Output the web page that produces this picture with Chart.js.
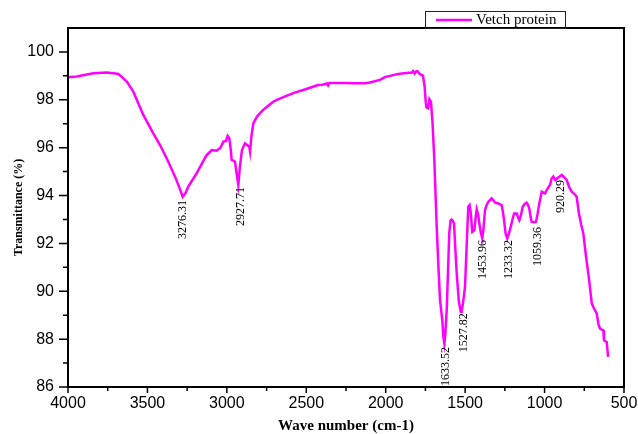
<!DOCTYPE html>
<html>
<head>
<meta charset="utf-8">
<script src="https://cdn.jsdelivr.net/npm/chart.js@4.4.1/dist/chart.umd.min.js"></script>
<style>
  html, body { margin: 0; padding: 0; background: #fff; }
</style>
</head>
<body>
<canvas id="myChart" width="638" height="434"></canvas>
<script>
// FTIR spectrum
const wavenumber = [
  4000, 3945, 3890, 3840, 3756, 3700, 3683, 3660, 3630, 3589, 3526, 3463, 3420, 3379, 3326, 3300,
  3278, 3260, 3243, 3190, 3160, 3127, 3095, 3064, 3040, 3022, 3005, 2995, 2985, 2975, 2970, 2955,
  2949, 2938, 2928, 2918, 2905, 2886, 2870, 2859, 2854, 2845, 2833, 2810, 2791, 2771, 2740, 2708,
  2686, 2640, 2582, 2500, 2426, 2400, 2370, 2363, 2355, 2300, 2250, 2204, 2132, 2100, 2036, 2006,
  1960, 1923, 1870, 1835, 1828, 1818, 1810, 1800, 1786, 1765, 1755, 1748, 1744, 1734, 1725, 1715,
  1705, 1694, 1679, 1668, 1658, 1644, 1637, 1631, 1625, 1616, 1608, 1600, 1592, 1585, 1578, 1570,
  1562, 1553, 1540, 1528, 1522, 1511, 1501, 1494, 1485, 1480, 1472, 1465, 1455, 1442, 1435, 1427,
  1418, 1411, 1400, 1392, 1385, 1375, 1365, 1354, 1333, 1320, 1312, 1291, 1270, 1262, 1255, 1245,
  1235, 1225, 1213, 1200, 1192, 1175, 1165, 1159, 1148, 1138, 1125, 1113, 1104, 1096, 1088, 1081,
  1065, 1054, 1045, 1033, 1018, 1008, 997, 985, 966, 955, 945, 932, 920, 905, 892, 875,
  861, 845, 829, 810, 798, 785, 770, 756, 740, 720, 703, 690, 672, 660, 651, 640,
  630, 626, 615, 609, 605, 600
];
const transmittance = [
  98.94, 98.97, 99.05, 99.11, 99.14, 99.10, 99.08, 98.95, 98.76, 98.34, 97.37, 96.60, 96.10, 95.56, 94.79, 94.35,
  93.95, 94.10, 94.37, 94.93, 95.30, 95.69, 95.90, 95.87, 96.00, 96.25, 96.28, 96.49, 96.40, 95.90, 95.49, 95.45,
  95.41, 94.90, 94.44, 95.20, 95.90, 96.18, 96.10, 96.04, 95.83, 96.50, 97.02, 97.30, 97.44, 97.58, 97.75, 97.92,
  98.00, 98.12, 98.28, 98.45, 98.62, 98.63, 98.68, 98.60, 98.70, 98.70, 98.70, 98.69, 98.69, 98.72, 98.83, 98.95,
  99.02, 99.08, 99.12, 99.14, 99.20, 99.10, 99.18, 99.20, 99.08, 99.00, 98.55, 97.90, 97.69, 97.65, 98.02, 97.90,
  97.00, 95.49, 92.69, 91.00, 89.63, 88.79, 88.10, 87.82, 88.20, 89.21, 90.80, 92.42, 92.95, 93.00, 92.95, 92.84,
  91.80, 90.74, 89.60, 89.15, 89.14, 89.63, 90.18, 91.30, 92.80, 93.53, 93.60, 93.30, 92.49, 92.56, 93.00, 93.42,
  93.20, 92.84, 92.40, 92.21, 92.60, 93.39, 93.60, 93.74, 93.88, 93.78, 93.70, 93.67, 93.60, 93.30, 92.97, 92.40,
  92.21, 92.40, 92.69, 93.05, 93.25, 93.25, 93.05, 92.97, 93.20, 93.53, 93.65, 93.70, 93.60, 93.46, 93.10, 92.90,
  92.88, 92.90, 93.20, 93.67, 94.16, 94.12, 94.09, 94.25, 94.44, 94.72, 94.79, 94.65, 94.72, 94.80, 94.86, 94.75,
  94.65, 94.35, 94.16, 94.05, 93.95, 93.30, 92.80, 92.42, 91.50, 90.50, 89.49, 89.30, 89.07, 88.60, 88.44, 88.40,
  88.37, 87.95, 87.90, 87.88, 87.60, 87.26
];

// peak annotations (text, and where the text starts in data units)
const peakLabels = ['3276.31', '2927.71', '1633.52', '1527.82', '1453.96', '1233.32', '1059.36', '920.29'];
const peakLabelX = [3276, 2911, 1619, 1507, 1388, 1226, 1041, 898];
const peakLabelY = [93.81, 94.36, 87.67, 89.08, 92.14, 92.14, 92.69, 94.65];

const xTicks = [500, 750, 1000, 1250, 1500, 1750, 2000, 2250, 2500, 2750, 3000, 3250, 3500, 3750, 4000];
const yTicks = [86, 87, 88, 89, 90, 91, 92, 93, 94, 95, 96, 97, 98, 99, 100];

const seriesName = 'Vetch protein';

// frame, tick marks, peak labels and boxed legend
const extrasPlugin = {
  id: 'extras',
  afterDraw(chart) {
    const { ctx, chartArea: a, scales: { x, y } } = chart;
    ctx.save();
    ctx.strokeStyle = '#000';
    ctx.lineWidth = 2;
    ctx.strokeRect(a.left, a.top, a.right - a.left, a.bottom - a.top);

    ctx.lineWidth = 1.5;
    ctx.beginPath();
    x.ticks.forEach(t => {
      const px = x.getPixelForValue(t.value);
      const len = t.value % 500 === 0 ? 6 : 4;
      ctx.moveTo(px, a.bottom);
      ctx.lineTo(px, a.bottom + len);
    });
    y.ticks.forEach(t => {
      const py = y.getPixelForValue(t.value);
      const len = t.value % 2 === 0 ? 9 : 5;
      ctx.moveTo(a.left, py);
      ctx.lineTo(a.left - len, py);
    });
    ctx.stroke();

    ctx.fillStyle = '#000';
    ctx.font = '12px "Liberation Serif", "Times New Roman", serif';
    ctx.textAlign = 'right';
    ctx.textBaseline = 'middle';
    peakLabels.forEach((s, i) => {
      ctx.save();
      ctx.translate(x.getPixelForValue(peakLabelX[i]), y.getPixelForValue(peakLabelY[i]));
      ctx.rotate(-Math.PI / 2);
      ctx.fillText(s, 0, 0);
      ctx.restore();
    });

    // legend box sitting on the top edge of the plot
    const ds = chart.data.datasets[0];
    ctx.lineWidth = 1;
    ctx.strokeStyle = '#222';
    ctx.strokeRect(425.5, 11.5, 140, 17);
    ctx.strokeStyle = ds.borderColor;
    ctx.lineWidth = 2.5;
    ctx.beginPath();
    ctx.moveTo(436, 20);
    ctx.lineTo(472, 20);
    ctx.stroke();
    ctx.font = '15px "Liberation Serif", "Times New Roman", serif';
    ctx.textAlign = 'left';
    ctx.fillText(ds.label, 476, 20.5);
    ctx.restore();
  }
};

const ctx = document.getElementById('myChart');

new Chart(ctx, {
  type: 'line',
  data: {
    datasets: [{
      label: seriesName,
      data: wavenumber.map((w, i) => ({ x: w, y: transmittance[i] })),
      borderColor: '#ff00ff',
      borderWidth: 2.5,
      pointRadius: 0,
      tension: 0,
      fill: false
    }]
  },
  options: {
    responsive: false,
    animation: false,
    devicePixelRatio: 1,
    layout: {
      padding: { left: 0, right: 14, top: 28, bottom: 0 }
    },
    plugins: {
      legend: { display: false },
      tooltip: { enabled: false }
    },
    scales: {
      x: {
        type: 'linear',
        reverse: true,
        min: 500,
        max: 4000,
        afterBuildTicks: s => { s.ticks = xTicks.map(v => ({ value: v })); },
        afterFit: s => { s.height = 47; },
        grid: { display: false, drawTicks: false },
        border: { display: false },
        ticks: {
          autoSkip: false,
          maxRotation: 0,
          padding: 7,
          color: '#000',
          font: { family: '"Liberation Sans", Arial, sans-serif', size: 16 },
          callback: v => (v % 500 === 0 ? v : '')
        },
        title: {
          display: true,
          text: 'Wave number (cm-1)',
          color: '#000',
          padding: { top: 0, bottom: 0 },
          font: { family: '"Liberation Serif", "Times New Roman", serif', size: 15, weight: 'bold', lineHeight: 1 }
        }
      },
      y: {
        min: 86,
        max: 101,
        afterBuildTicks: s => { s.ticks = yTicks.map(v => ({ value: v })); },
        afterFit: s => { s.width = 68; },
        grid: { display: false, drawTicks: false },
        border: { display: false },
        ticks: {
          autoSkip: false,
          padding: 14,
          color: '#000',
          font: { family: '"Liberation Sans", Arial, sans-serif', size: 16 },
          callback: v => (v % 2 === 0 ? v : '')
        },
        title: {
          display: true,
          text: 'Transmittance (%)',
          color: '#000',
          padding: { top: 12, bottom: 0 },
          font: { family: '"Liberation Serif", "Times New Roman", serif', size: 12, weight: 'bold' }
        }
      }
    }
  },
  plugins: [extrasPlugin]
});
</script>
</body>
</html>
